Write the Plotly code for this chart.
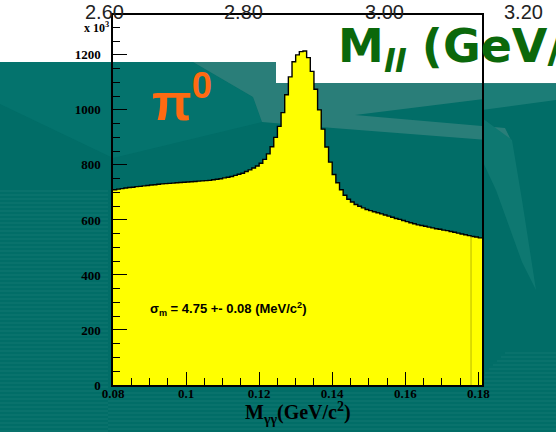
import plotly.graph_objects as go

W, H = 556, 432
# plot frame in page pixels
L, R, T, B = 113, 482, 15, 385

# ---- data -------------------------------------------------------------
# two-photon invariant mass, 1 MeV/c^2 bins starting at 0.080 GeV/c^2
bin_lo = 0.080
bin_width = 0.001
# entries per bin, in units of 10^3
counts = [
    710, 712, 714, 716, 718, 719, 721, 722, 724, 725,
    727, 728, 730, 731, 732, 733, 734, 735, 736, 737,
    738, 739, 740, 741, 742, 743, 744, 746, 748, 750,
    753, 755, 758, 762, 766, 770, 776, 782, 789, 796,
    806, 820, 840, 866, 900, 940, 990, 1055, 1120, 1175,
    1200, 1212, 1214, 1190, 1140, 1075, 1000, 930, 865, 810,
    765, 735, 710, 690, 675, 665, 656, 650, 644, 638,
    634, 630, 626, 622, 618, 614, 610, 605, 602, 598,
    594, 590, 586, 582, 580, 577, 574, 571, 568, 566,
    563, 561, 558, 555, 552, 549, 546, 543, 540, 538,
    535,
]
fit_hi = 0.178          # upper edge of the fit window
sigma_m = 4.75          # MeV/c^2
sigma_err = 0.08

x_range = [0.080, 0.181]
y_range = [0, 1345]
x_tickvals = [0.08, 0.10, 0.12, 0.14, 0.16, 0.18]
x_ticktext = ["0.08", "0.1", "0.12", "0.14", "0.16", "0.18"]
y_tickvals = [0, 200, 400, 600, 800, 1000, 1200]
y_ticktext = ["0", "200", "400", "600", "800", "1000", "1200"]
top_axis_labels = ["2.60", "2.80", "3.00", "3.20"]
top_axis_px = [104, 243, 384, 523]

# ---- helpers: page pixels -> paper coordinates ------------------------
def px(x):
    return (x - L) / (R - L)

def py(y):
    return (B - y) / (B - T)

def poly(points, color, opacity=1.0):
    path = "M " + " L ".join(f"{px(x):.5f},{py(y):.5f}" for x, y in points) + " Z"
    return dict(type="path", xref="paper", yref="paper", path=path,
                fillcolor=color, line=dict(width=0), layer="below",
                opacity=opacity)

def rect(x0, y0, x1, y1, color, opacity=1.0):
    return dict(type="rect", xref="paper", yref="paper",
                x0=px(x0), x1=px(x1), y0=py(y1), y1=py(y0),
                fillcolor=color, line=dict(width=0), layer="below",
                opacity=opacity)

TEAL = "#016D67"

# ---- slide background ------------------------------------------------
shapes = [
    rect(0, 0, W, 62, "white"),
    rect(276, 62, W, 83, "white"),
    # lighter upper-left teal
    poly([(0, 62), (193, 62), (253, 97), (262, 122), (113, 158), (0, 104)], "#04736D"),
    # light band under the title box
    poly([(193, 62), (276, 62), (276, 83), (556, 83), (556, 90), (355, 115),
          (505, 128), (512, 142), (333, 128), (262, 122), (253, 97)], "#2A7E79"),
    # streak on the right
    poly([(482, 118), (512, 140), (522, 200), (536, 290), (522, 262), (496, 190), (482, 160)],
         "#0E7871"),
    poly([(482, 84), (556, 84), (556, 100), (482, 110)], "#1C7D77"),
]
# faint horizontal scan lines
for y in range(190, H, 4):
    shapes.append(rect(0, y, 108, y + 2, "white", 0.035))
for y in range(392, H, 4):
    shapes.append(rect(108, y, W, y + 2, "white", 0.035))
for y in range(352, 392, 4):
    shapes.append(rect(505 - (y - 352), y, W, y + 2, "white", 0.035))

# ---- histogram -------------------------------------------------------
edges = [bin_lo + i * bin_width for i in range(len(counts) + 1)]
step_y = counts + [counts[-1]]

fig = go.Figure()
fig.add_trace(go.Scatter(
    x=edges, y=step_y, mode="lines", line_shape="hv",
    line=dict(color="black", width=1.4),
    fill="tozeroy", fillcolor="#FFFF00", hoverinfo="skip",
))
fit_idx = int(round((fit_hi - bin_lo) / bin_width))
fig.add_trace(go.Scatter(
    x=[fit_hi, fit_hi], y=[0, counts[fit_idx]], mode="lines",
    line=dict(color="#B9B900", width=1), hoverinfo="skip",
))

tick_font = dict(family="Liberation Serif", size=13, color="black", weight="bold")

fig.update_layout(
    width=W, height=H,
    margin=dict(l=L, r=W - R, t=T, b=H - B, pad=0),
    paper_bgcolor=TEAL,
    plot_bgcolor="rgba(0,0,0,0)",
    showlegend=False,
    shapes=shapes,
    xaxis=dict(
        range=x_range, tickvals=x_tickvals, ticktext=x_ticktext,
        ticks="inside", ticklen=13, tickwidth=1.2, tickcolor="black",
        minor=dict(ticks="inside", ticklen=7, dtick=0.005, tick0=0.08,
                   tickcolor="black", tickwidth=1.2),
        showline=True, linecolor="black", linewidth=1.5, mirror=True,
        showgrid=False, zeroline=False, tickfont=tick_font,
        ticklabelstandoff=-4,
    ),
    yaxis=dict(
        range=y_range, tickvals=y_tickvals, ticktext=y_ticktext,
        ticks="inside", ticklen=14, tickwidth=1.2, tickcolor="black",
        minor=dict(ticks="inside", ticklen=7, dtick=50, tick0=0,
                   tickcolor="black", tickwidth=1.2),
        showline=True, linecolor="black", linewidth=1.5, mirror=True,
        showgrid=False, zeroline=False, tickfont=tick_font,
        ticklabelstandoff=8,
    ),
)

ann = []
# exponent of the y axis
ann.append(dict(xref="paper", yref="paper", x=px(111), y=py(28), xanchor="right",
                yanchor="middle", showarrow=False,
                text="x 10<sup>3</sup>",
                font=dict(family="Liberation Serif", size=12, color="black", weight="bold")))
# x-axis title
ann.append(dict(xref="paper", yref="paper", x=px(298), y=py(413), xanchor="center",
                yanchor="middle", showarrow=False,
                text="M<sub>γγ</sub>(GeV/c<sup>2</sup>)",
                font=dict(family="Liberation Serif", size=20, color="black", weight="bold")))
# fitted width
ann.append(dict(xref="paper", yref="paper", x=px(148), y=py(309), xanchor="left",
                yanchor="middle", showarrow=False,
                text=f"σ<sub>m</sub> = {sigma_m:.2f} +- {sigma_err:.2f} (MeV/c<sup>2</sup>)",
                font=dict(family="Liberation Sans", size=13, color="black", weight="bold")))
# particle label
ann.append(dict(xref="paper", yref="paper", x=px(150), y=py(98), xanchor="left",
                yanchor="middle", showarrow=False,
                text="π<sup>0</sup>",
                font=dict(family="Liberation Sans", size=52, color="#FF6A12", weight="bold")))
# slide title
ann.append(dict(xref="paper", yref="paper", x=px(336), y=py(46), xanchor="left",
                yanchor="middle", showarrow=False,
                text="M<sub><i>ll</i></sub> (GeV/c<sup>2</sup>)",
                font=dict(family="DejaVu Sans", size=46, color="#0B680B", weight="bold")))
# labels of the axis above, cut by the page edge
for lab, xp in zip(top_axis_labels, top_axis_px):
    ann.append(dict(xref="paper", yref="paper", x=px(xp), y=py(12), xanchor="center",
                    yanchor="middle", showarrow=False, text=lab,
                    font=dict(family="Liberation Sans", size=20, color="#222222")))
fig.update_layout(annotations=ann)

fig.write_html("out.html")
